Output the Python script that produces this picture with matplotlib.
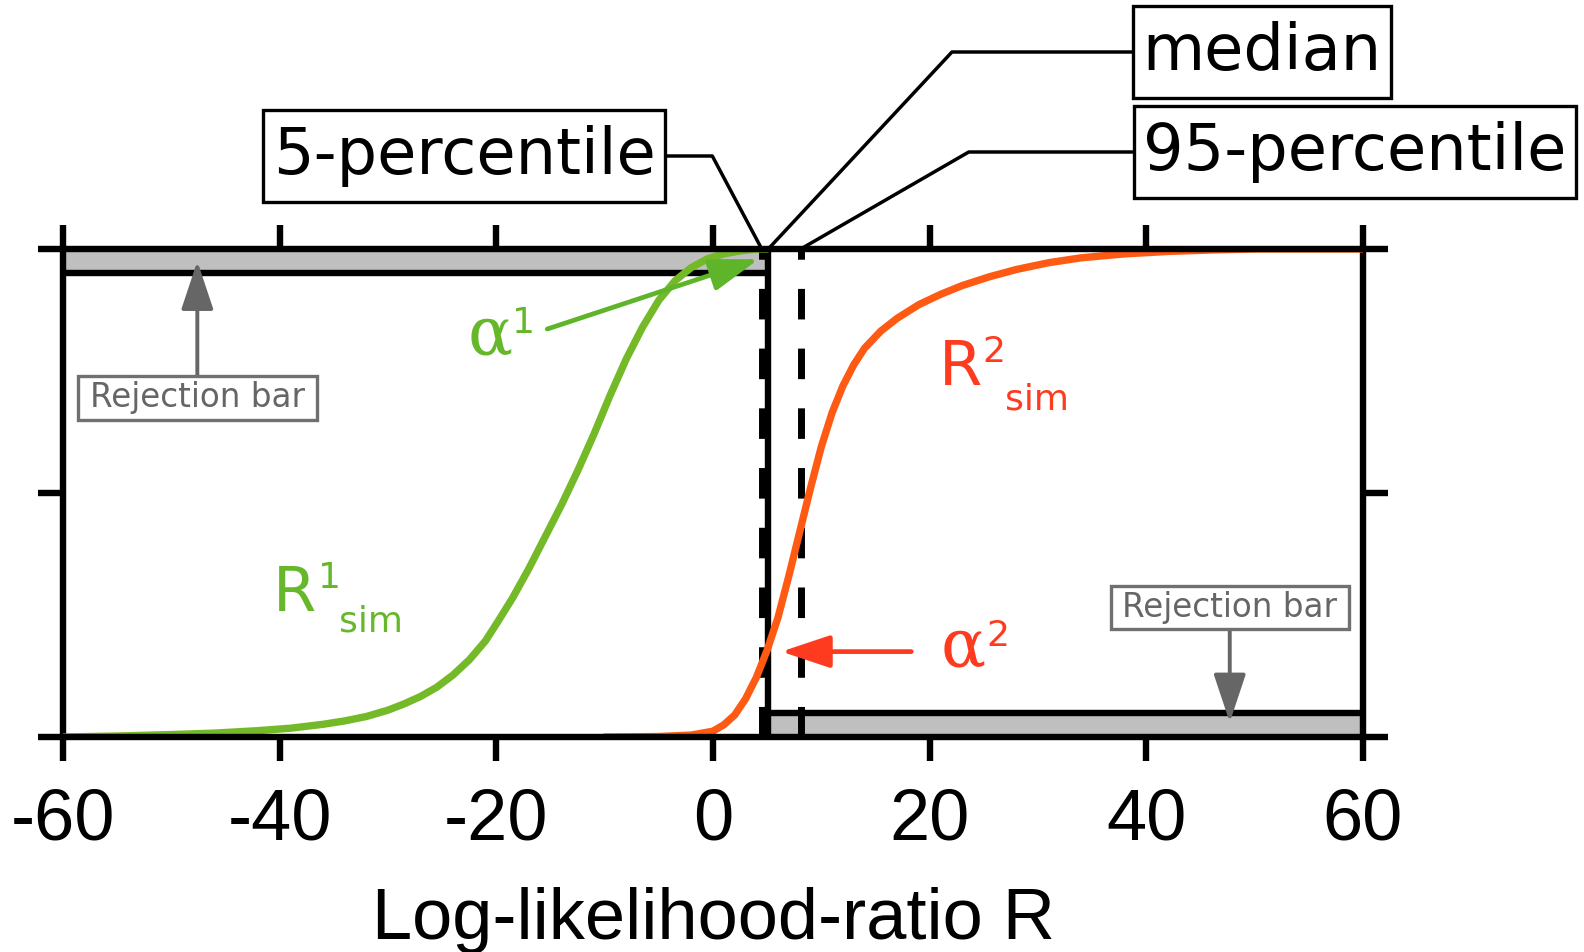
"""
Rejection-bar sketch: simulated CDFs of the log-likelihood ratio R for two
hypotheses, with the 5/50/95 percentiles of the observed R marked on top.
Saves out.png.
"""
import matplotlib.pyplot as plt

# ---------------------------------------------------------------------------
# DATA
# ---------------------------------------------------------------------------
r1_x   = [-60, -55, -50, -46, -42, -39, -36, -34, -32, -30, -28.5, -27, -25.5,
          -24, -22.5, -21, -19.9, -18.5, -17, -15.5, -14, -12.5, -11, -9.5,
          -8, -6.5, -5, -3.5, -2, -0.5, 1, 2.5, 4, 5]
r1_cdf = [0.0, 0.002, 0.005, 0.008, 0.013, 0.018, 0.026, 0.033, 0.042, 0.055,
          0.068, 0.083, 0.102, 0.127, 0.158, 0.197, 0.235, 0.285, 0.345, 0.41,
          0.475, 0.545, 0.62, 0.70, 0.775, 0.84, 0.895, 0.935, 0.962, 0.98,
          0.99, 0.996, 1.0, 1.0]

r2_x   = [-10, -5, -2, 0, 1, 2, 3, 4, 5, 6, 7, 8, 9, 10, 11, 12, 13, 14, 15.5,
          17, 19, 21, 23, 25.5, 28, 31, 34, 38, 42, 46, 50, 60]
r2_cdf = [0.0, 0.001, 0.004, 0.012, 0.025, 0.045, 0.078, 0.122, 0.178, 0.245,
          0.33, 0.42, 0.51, 0.595, 0.665, 0.72, 0.763, 0.797, 0.832, 0.858,
          0.886, 0.907, 0.925, 0.943, 0.958, 0.972, 0.982, 0.99, 0.995, 0.998,
          1.0, 1.0]

p5, median, p95 = 4.5, 5.1, 8.1      # percentiles of observed R
reject_level    = 0.05               # height of the rejection bars
alpha1_level    = 0.979              # R1 CDF where the alpha1 arrow points
alpha2_level    = 0.175              # R2 CDF where the alpha2 arrow points

x_ticks       = [-60, -40, -20, 0, 20, 40, 60]
x_tick_labels = ["-60", "-40", "-20", "0", "20", "40", "60"]

# ---------------------------------------------------------------------------
# STYLE
# ---------------------------------------------------------------------------
W, H, DPI  = 1584, 952, 100
GREEN      = "#74b928"
GREEN_TXT  = "#66b82a"
ORANGE     = "#ff5a14"
RED_TXT    = "#ff3b1f"
GRAY       = "#666666"
BAR_GRAY   = "#bfbfbf"
FRAME_LW   = 4.6
SANS       = "DejaVu Sans"
TICK_FONT  = "Liberation Sans"


def fpx(x, y):
    """Pixel position (from top-left) -> figure fraction."""
    return x / W, 1 - y / H


fig = plt.figure(figsize=(W / DPI, H / DPI), dpi=DPI)
ax = fig.add_axes([63 / W, 1 - 737 / H, 1300 / W, 488 / H])
ax.set_xlim(-60, 60)
ax.set_ylim(0, 1)

# frame: left/right spines, top/bottom drawn a bit wider than the box
for side in ("top", "bottom"):
    ax.spines[side].set_visible(False)
for side in ("left", "right"):
    ax.spines[side].set_linewidth(FRAME_LW)
for yy in (0, 1):
    ax.plot([-0.019, 1.019], [yy, yy], transform=ax.transAxes, color="black",
            lw=FRAME_LW, clip_on=False, solid_capstyle="butt", zorder=5)

ax.set_xticks(x_ticks)
ax.set_xticklabels(x_tick_labels, fontfamily=TICK_FONT, fontsize=52)
ax.tick_params(axis="x", top=True, bottom=True, direction="out", length=17,
               width=FRAME_LW, pad=19)
ax.set_yticks([0.5])
ax.set_yticklabels([])
ax.tick_params(axis="y", left=True, right=True, direction="out", length=18,
               width=FRAME_LW)
ax.set_xlabel("Log-likelihood-ratio R", fontfamily=TICK_FONT, fontsize=52,
              labelpad=24)

# rejection bars
ax.fill_between([-60, median], 1 - reject_level, 1, color=BAR_GRAY, lw=0, zorder=1)
ax.fill_between([median, 60], 0, reject_level, color=BAR_GRAY, lw=0, zorder=1)
ax.plot([-60, median], [1 - reject_level] * 2, color="black", lw=FRAME_LW,
        solid_capstyle="butt", zorder=2)
ax.plot([median, 60], [reject_level] * 2, color="black", lw=FRAME_LW,
        solid_capstyle="butt", zorder=2)

# percentile lines (drawn bottom -> top so the dash phase matches)
ax.plot([p5, p5], [0, 1], color="black", lw=5, ls=(0, (4.4, 4.2)), zorder=2)
ax.plot([p95, p95], [0, 1], color="black", lw=5, ls=(0, (4.4, 4.2)), zorder=2)
ax.plot([median, median], [0, 1], color="black", lw=FRAME_LW,
        solid_capstyle="butt", zorder=2)

# simulated CDFs
ax.plot(r1_x, r1_cdf, color=GREEN, lw=5.3, zorder=3,
        solid_capstyle="round", solid_joinstyle="round")
ax.plot(r2_x, r2_cdf, color=ORANGE, lw=5.3, zorder=3,
        solid_capstyle="round", solid_joinstyle="round")

# alpha arrows
head = "-|>,head_length=1.5,head_width=0.5"
ax.annotate("", xy=(p5 - 0.3, alpha1_level), xytext=(-15.3, 0.836),
            arrowprops=dict(arrowstyle=head, mutation_scale=20, lw=3.4,
                            color="#5fb52a", shrinkA=0, shrinkB=0), zorder=4)
ax.annotate("", xy=(median + 1.2, alpha2_level), xytext=(18.3, alpha2_level),
            arrowprops=dict(arrowstyle=head, mutation_scale=20, lw=3.4,
                            color=RED_TXT, shrinkA=0, shrinkB=0), zorder=4)

# rejection bar labels
rej_box = dict(boxstyle="square,pad=0.36", fc="white", ec="#707070", lw=2.4,
               mutation_aspect=0.45)
rej_arrow = dict(arrowstyle=head, mutation_scale=20, lw=2.8, color=GRAY,
                 shrinkA=0, shrinkB=0)
ax.annotate("Rejection bar", xy=(-47.6, 1 - reject_level / 2),
            xytext=(-47.6, 0.695), ha="center", va="center", fontsize=23.5,
            fontfamily=SANS, color=GRAY, bbox=rej_box, arrowprops=rej_arrow,
            zorder=4)
ax.annotate("Rejection bar", xy=(47.7, reject_level * 0.6),
            xytext=(47.7, 0.265), ha="center", va="center", fontsize=23.5,
            fontfamily=SANS, color=GRAY, bbox=rej_box, arrowprops=rej_arrow,
            zorder=4)

# percentile call-outs above the frame
call_box = dict(boxstyle="square,pad=0.15", fc="white", ec="black", lw=2.4,
                mutation_aspect=1.6)
callouts = [("5-percentile", p5, (464, H - 156), 118),
            ("median", median, (1262, H - 52), 47),
            ("95-percentile", p95, (1355, H - 152), 30)]
for text, xv, pos, angle_b in callouts:
    ax.annotate(text, xy=(xv, 1), xycoords="data",
                xytext=pos, textcoords="figure pixels",
                ha="center", va="center", fontsize=46, fontfamily=SANS,
                bbox=call_box, annotation_clip=False,
                arrowprops=dict(arrowstyle="-", lw=2.5, color="black",
                                shrinkA=0, shrinkB=0,
                                connectionstyle=f"angle,angleA=0,angleB={angle_b},rad=0"))

# curve labels
def label(x, y, s, size, color, family=SANS):
    fig.text(*fpx(x, y), s, fontsize=size, color=color, fontfamily=family,
             ha="left", va="baseline")

label(273, 611, "R", 45, GREEN_TXT)
label(318, 588, "1", 26, GREEN_TXT)
label(339, 632, "sim", 26, GREEN_TXT)

label(939, 385, "R", 45, RED_TXT)
label(982, 362, "2", 26, RED_TXT)
label(1005, 410, "sim", 26, RED_TXT)

label(468, 355, "\u03b1", 48, GREEN_TXT, family="DejaVu Serif")
label(512, 333, "1", 26, GREEN_TXT)

label(941, 667, "\u03b1", 48, RED_TXT, family="DejaVu Serif")
label(986, 646, "2", 26, RED_TXT)

fig.savefig("out.png", dpi=DPI)
